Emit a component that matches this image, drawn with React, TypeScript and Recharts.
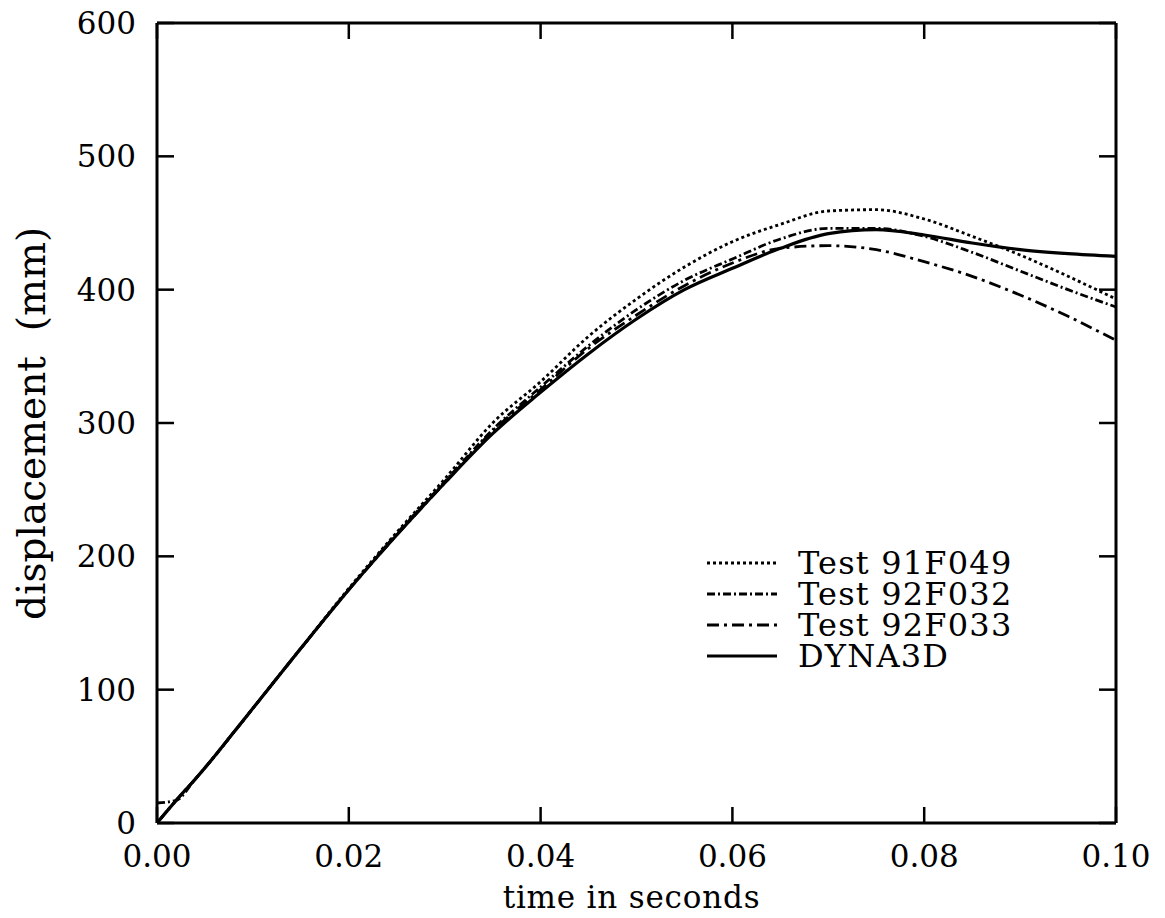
import React from 'react';
import { LineChart, Line, XAxis, YAxis, Legend, ReferenceLine } from 'recharts';

const FONT = '"DejaVu Serif", serif';

// time in seconds
const times = [0, 0.002, 0.004, 0.006, 0.008, 0.01, 0.015, 0.02, 0.025, 0.03, 0.035, 0.04, 0.045, 0.05, 0.055, 0.06, 0.065, 0.07, 0.075, 0.08, 0.085, 0.09, 0.095, 0.1];
// displacement (mm)
const test91F049 = [0, 17, 33, 50, 68, 86, 131, 176, 218, 258, 300, 331, 365, 393, 417, 436, 449, 459, 460, 453, 440, 426, 410, 393];
const test92F032 = [15, 17, 33, 50, 68, 86, 131, 175, 217, 256, 295, 327, 358, 385, 407, 423, 438, 446, 446, 440, 428, 414, 400, 387];
const test92F033 = [0, 17, 33, 50, 68, 86, 131, 175, 216, 255, 294, 325, 356, 381, 403, 420, 431, 433, 430, 421, 410, 396, 380, 362];
const dyna3d = [0, 17, 33, 50, 68, 86, 131, 175, 216, 255, 292, 323, 352, 378, 400, 416, 431, 442, 445, 441, 435, 430, 427, 425];

const xTicks = [0, 0.02, 0.04, 0.06, 0.08, 0.1];
const yTicks = [0, 100, 200, 300, 400, 500, 600];

const seriesNames = ['Test 91F049', 'Test 92F032', 'Test 92F033', 'DYNA3D'];
const seriesKeys = ['t91F049', 't92F032', 't92F033', 'dyna3d'];
const seriesDash = ['3 3', '8 3 2 3', '12 5 3 5', undefined];
const seriesWidth = [2.8, 2.8, 2.8, 3.2];

const data = times.map((t, i) => ({
  t,
  t91F049: test91F049[i],
  t92F032: test92F032[i],
  t92F033: test92F033[i],
  dyna3d: dyna3d[i],
}));

const LegendContent = (props: any) => {
  const payload = [...(props.payload || [])].sort(
    (a: any, b: any) => seriesNames.indexOf(a.value) - seriesNames.indexOf(b.value)
  );
  return (
    <svg width={360} height={130} style={{ display: 'block' }}>
      {payload.map((entry: any, i: number) => {
        const idx = seriesNames.indexOf(entry.value);
        const y = 16 + i * 31;
        return (
          <g key={entry.value}>
            <line x1={0} x2={70} y1={y} y2={y} stroke="#000" strokeWidth={seriesWidth[idx]}
              strokeDasharray={seriesDash[idx]} />
            <text x={91} y={y} dy="0.35em" fontFamily={FONT} fontSize={32} letterSpacing={1.2}
              fill="#000">{entry.value}</text>
          </g>
        );
      })}
    </svg>
  );
};

const axisLine = { stroke: '#000', strokeWidth: 3 };
const tickStyle = { fill: '#000', fontSize: 31, fontFamily: FONT };
const TICK_LEN_Y = 17;
const TICK_LEN_X = 16;

// inward tick marks drawn at both ends of a reference line through each tick value
const HTickShape = (p: any) => {
  const xa = Math.min(p.x1, p.x2);
  const xb = Math.max(p.x1, p.x2);
  return (
    <g>
      <line x1={xa} x2={xa + TICK_LEN_Y} y1={p.y1} y2={p.y1} stroke="#000" strokeWidth={2.5} />
      <line x1={xb - TICK_LEN_Y} x2={xb} y1={p.y1} y2={p.y1} stroke="#000" strokeWidth={2.5} />
    </g>
  );
};

const VTickShape = (p: any) => {
  const ya = Math.min(p.y1, p.y2);
  const yb = Math.max(p.y1, p.y2);
  return (
    <g>
      <line x1={p.x1} x2={p.x1} y1={ya} y2={ya + TICK_LEN_X} stroke="#000" strokeWidth={2.5} />
      <line x1={p.x1} x2={p.x1} y1={yb - TICK_LEN_X} y2={yb} stroke="#000" strokeWidth={2.5} />
    </g>
  );
};

export default function App() {
  return (
    <LineChart width={1150} height={905} data={data}
      margin={{ top: 14, right: 41, left: 49, bottom: 5 }}>
      <XAxis dataKey="t" type="number" domain={[0, 0.1]} ticks={xTicks} interval={0}
        tickFormatter={(v: number) => v.toFixed(2)}
        height={85} axisLine={axisLine} tickLine={false} tickSize={0} tickMargin={22} tick={tickStyle}
        label={{
          content: (p: any) => {
            const vb = p.viewBox;
            return (
              <text x={vb.x + vb.width / 2 - 5} y={vb.y + vb.height} textAnchor="middle"
                fontFamily={FONT} fontSize={31} letterSpacing={0.8} fill="#000">time in seconds</text>
            );
          },
        }}
      />
      <XAxis xAxisId="top" orientation="top" type="number" domain={[0, 0.1]} height={1}
        axisLine={axisLine} tickLine={false} tick={false} />
      <YAxis type="number" domain={[0, 600]} ticks={yTicks} interval={0} width={100}
        axisLine={axisLine} tickLine={false} tickSize={0} tickMargin={21} tick={tickStyle}
        label={{
          content: (p: any) => {
            const vb = p.viewBox;
            const x = 37;
            const y = vb.y + vb.height / 2 + 197;
            return (
              <text x={x} y={y} transform={`rotate(-90 ${x} ${y})`} textAnchor="start"
                fontFamily={FONT} fontSize={39} fill="#000" style={{ whiteSpace: 'pre' }}>displacement  (mm)</text>
            );
          },
        }}
      />
      <YAxis yAxisId="right" orientation="right" type="number" domain={[0, 600]} width={1}
        axisLine={axisLine} tickLine={false} tick={false} />
      {yTicks.map((v) => (
        <ReferenceLine key={`y${v}`} y={v} shape={HTickShape} />
      ))}
      {xTicks.map((v) => (
        <ReferenceLine key={`x${v}`} x={v} shape={VTickShape} />
      ))}
      <Legend layout="vertical" align="center" verticalAlign="middle" content={<LegendContent />}
        wrapperStyle={{ position: 'absolute', left: 699, top: 539, width: 360, height: 130 }} />
      {seriesKeys.map((k, i) => (
        <Line key={k} dataKey={k} name={seriesNames[i]} type="monotone" stroke="#000"
          strokeWidth={seriesWidth[i]} strokeDasharray={seriesDash[i]} dot={false}
          activeDot={false} isAnimationActive={false} />
      ))}
    </LineChart>
  );
}
